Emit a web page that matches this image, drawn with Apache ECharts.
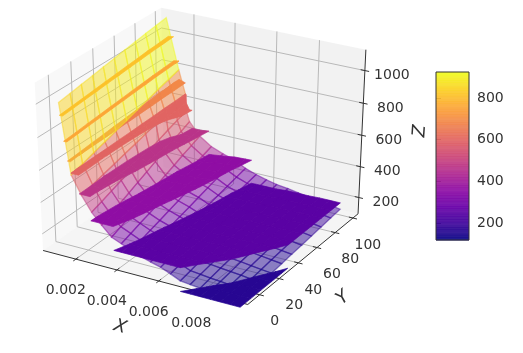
<!DOCTYPE html>
<html><head><meta charset="utf-8">
<style>html,body{margin:0;padding:0;background:#fff}#c{width:523px;height:353px;filter:blur(0.4px)}</style>
<script src="https://cdn.jsdelivr.net/npm/echarts@6/dist/echarts.min.js"></script>
</head><body><div id="c"></div>
<script>
// ---- values ----
const xTicks=[0.002,0.004,0.006,0.008];
const yTicks=[0,20,40,60,80,100];
const zTicks=[200,400,600,800,1000];
const xLabels=['0.002','0.004','0.006','0.008'];
const yLabels=['0','20','40','60','80','100'];
const zLabels=['200','400','600','800','1000'];
const xLim=[0.00038,0.01014], yLim=[-11.8,105.9], zLim=[93,1126];
const xStart=[0.00165,0.00158,0.0015,0.00143,0.00135,0.00128,0.0012,0.00113,0.00105,0.00099,0.00092];
const xEnd=0.00994;
const xSteps=18;
const yStart=-15;
const yEnd=[100,102,99,89,82,82,83.5,85,87,87.5,88,88,88,89,89,89,89.5,89.5,89.5];
const zValues=[
[1060,1064,1068,1072,1076,1080,1084,1088,1092,1096,1100],
[640,654,668,682,696,710,724,738,752,766,780],
[530,541,552,563,574,585,596,607,618,629,640],
[440,456,472,488,504,520,536,552,568,584,600],
[375,395,415,435,455,475,495,515,535,555,575],
[315,333,351,370,388,406,424,442,461,479,497],
[290,305,320,334,349,364,379,394,408,423,438],
[262,276,290,303,317,331,345,359,372,386,400],
[240,252,265,278,290,302,315,328,340,352,365],
[222,232,243,253,263,274,284,294,304,315,325],
[205,214,224,233,242,252,261,270,279,289,298],
[180,190,200,210,220,230,240,250,260,270,280],
[152,163,175,186,197,208,219,230,242,253,265],
[145,156,166,177,187,198,208,219,229,240,250],
[139,149,159,169,179,189,198,208,218,228,238],
[135,144,153,163,172,181,190,199,209,218,227],
[128,137,146,154,163,172,181,190,198,207,216],
[121,129,138,146,155,163,171,180,188,197,205],
[115,123,131,139,147,155,162,170,178,186,194]];
const bandEdges=[90,152,310,450,555,650,775,910,1050];
const bandLevels=[85,235,385,535,650,720,835,985];
const bandShades=[0.05,0.16,0.30,0.43,0.60,0.70,0.80,0.87];
const bandsUnderSurface=[5];
const plasmaStops=['#0d0887','#41049d','#6a00a8','#8f0da4','#b12a90','#cc4778','#e16462','#f1844b','#fca636','#fcce25','#f0f921'];
const colorRange=[119,924];
const colorbarTicks=[200,400,600,800];

// ---- helpers ----
function hex(c){return [1,3,5].map(i=>parseInt(c.substr(i,2),16));}
function plasma(t,a){t=Math.max(0,Math.min(1,t));const f=t*10,i=Math.min(9,Math.floor(f)),r=f-i;
  const A=hex(plasmaStops[i]),B=hex(plasmaStops[i+1]);
  const m=[0,1,2].map(k=>Math.round(A[k]+(B[k]-A[k])*r));
  return 'rgba('+m[0]+','+m[1]+','+m[2]+','+(a==null?1:a)+')';}
// matplotlib-style view: elevation 30, azimuth -60, distance 10
const U=[0.8660254,0.5,0],V=[-0.25,0.4330127,0.8660254],N=[0.4330127,-0.75,0.5];
function frac(v,l){return (v-l[0])/(l[1]-l[0]);}
function depth(x,y,z){const q=[frac(x,xLim)-.5,frac(y,yLim)-.5,frac(z,zLim)-.5];return N[0]*q[0]+N[1]*q[1]+N[2]*q[2];}
function proj(x,y,z){const q=[frac(x,xLim)-.5,frac(y,yLim)-.5,frac(z,zLim)-.5];
  const d=10-(N[0]*q[0]+N[1]*q[1]+N[2]*q[2]);
  return [(U[0]*q[0]+U[1]*q[1])/d,(V[0]*q[0]+V[1]*q[1]+V[2]*q[2])/d];}
const sx=2363,cx=203,sy=1914,cy=151;

// ---- build scene ----
const items=[];
function poly(pts,style){items.push({k:'p',pts,style});}
function line(a,b,style){items.push({k:'l',a,b,style});}
function text(p,dx,dy,t,style){items.push({k:'t',p,dx,dy,t,style});}
const [x0,x1]=xLim,[y0,y1]=yLim,[z0,z1]=zLim;
poly([proj(x0,y0,z0),proj(x0,y1,z0),proj(x0,y1,z1),proj(x0,y0,z1)],{fill:'rgba(242,242,242,0.5)'});
poly([proj(x0,y1,z0),proj(x1,y1,z0),proj(x1,y1,z1),proj(x0,y1,z1)],{fill:'rgba(230,230,230,0.5)'});
poly([proj(x0,y0,z0),proj(x1,y0,z0),proj(x1,y1,z0),proj(x0,y1,z0)],{fill:'rgba(236,236,236,0.5)'});
const gs={stroke:'#b8b8b8',lineWidth:1};
xTicks.forEach(v=>{line(proj(v,y0,z0),proj(v,y1,z0),gs);line(proj(v,y1,z0),proj(v,y1,z1),gs);});
yTicks.forEach(v=>{line(proj(x1,v,z0),proj(x0,v,z0),gs);line(proj(x0,v,z0),proj(x0,v,z1),gs);});
zTicks.forEach(v=>{line(proj(x0,y0,v),proj(x0,y1,v),gs);line(proj(x0,y1,v),proj(x1,y1,v),gs);});
const ax={stroke:'#333',lineWidth:1};
line(proj(x0,y0,z0),proj(x1,y0,z0),ax);
line(proj(x1,y0,z0),proj(x1,y1,z0),ax);
line(proj(x1,y1,z0),proj(x1,y1,z1),ax);
xTicks.forEach(v=>line(proj(v,y0+0.02*(y1-y0),z0),proj(v,y0-0.02*(y1-y0),z0),ax));
yTicks.forEach(v=>line(proj(x1-0.02*(x1-x0),v,z0),proj(x1+0.02*(x1-x0),v,z0),ax));
zTicks.forEach(v=>line(proj(x1-0.02*(x1-x0),y1,v),proj(x1+0.02*(x1-x0),y1,v),ax));

// mesh node
function node(i,j){return [xStart[j]+(xEnd-xStart[j])*i/xSteps,yStart+(yEnd[i]-yStart)*j/10,zValues[i][j]];}
const cells=[];
for(let i=0;i<xSteps;i++)for(let j=0;j<10;j++){
  const c=[node(i,j),node(i+1,j),node(i+1,j+1),node(i,j+1)];
  const avg=(c[0][2]+c[1][2]+c[2][2]+c[3][2])/4;
  const d=(depth(...c[0])+depth(...c[1])+depth(...c[2])+depth(...c[3]))/4;
  cells.push({c,avg,d});
}
// filled contour bands: each grid cell cut to the band's range and laid flat at its level
function clip(P,lim,keepAbove){const out=[];for(let k=0;k<P.length;k++){const a=P[k],b=P[(k+1)%P.length];
  const ia=keepAbove?a[2]>=lim:a[2]<=lim, ib=keepAbove?b[2]>=lim:b[2]<=lim;
  if(ia)out.push(a);
  if(ia!==ib){const t=(lim-a[2])/(b[2]-a[2]);out.push([a[0]+(b[0]-a[0])*t,a[1]+(b[1]-a[1])*t,lim]);}
 }return out;}
function drawBand(b){
  const L=bandLevels[b],col=plasma(bandShades[b],1);
  cells.forEach(f=>{
    let P=clip(f.c,bandEdges[b],true); if(P.length<3)return;
    P=clip(P,bandEdges[b+1],false); if(P.length<3)return;
    poly(P.map(p=>proj(p[0],p[1],L)),{fill:col,stroke:col,lineWidth:0.7});
  });
}
bandsUnderSurface.forEach(drawBand);
cells.slice().sort((a,b)=>a.d-b.d).forEach(f=>{
  const col=plasma((f.avg-colorRange[0])/(colorRange[1]-colorRange[0]),0.5);
  poly(f.c.map(p=>proj(...p)),{fill:col,stroke:col,lineWidth:1.3});
});
bandLevels.forEach((L,b)=>{if(!bandsUnderSurface.includes(b))drawBand(b);});
// tick labels and axis names
const ts={fontFamily:'DejaVu Sans',fontSize:14,fill:'#333',align:'center',verticalAlign:'middle'};
xTicks.forEach((v,i)=>text(proj(v,y0,z0),-10,31,xLabels[i],ts));
yTicks.forEach((v,i)=>text(proj(x1,v,z0),15,27,yLabels[i],ts));
zTicks.forEach((v,i)=>text(proj(x1,y1,v),27,5,zLabels[i],ts));
const ns=Object.assign({},ts,{fontSize:18,fontStyle:'italic'});
items.push({k:'a',x:120,y:327,t:'X',style:ns,rot:-0.3});
items.push({k:'a',x:343,y:298,t:'Y',style:ns,rot:0.7});
items.push({k:'a',x:420,y:131,t:'Z',style:ns,rot:1.5});

function renderScene(params,api){
  const it=items[params.dataIndex];
  if(it.k==='p')return {type:'polygon',silent:true,shape:{points:it.pts.map(p=>api.coord(p))},style:it.style};
  if(it.k==='l'){const a=api.coord(it.a),b=api.coord(it.b);
    return {type:'line',silent:true,shape:{x1:a[0],y1:a[1],x2:b[0],y2:b[1]},style:it.style};}
  if(it.k==='t'){const a=api.coord(it.p);
    return {type:'text',silent:true,x:a[0]+it.dx,y:a[1]+it.dy,style:Object.assign({text:it.t},it.style)};}
  return {type:'text',silent:true,x:it.x,y:it.y,rotation:it.rot,style:Object.assign({text:it.t},it.style)};
}
// colour bar levels
const barLevels=[];for(let k=0;k<64;k++)barLevels.push(k);
function renderBar(params,api){
  const k=params.dataIndex,n=barLevels.length;
  const vA=colorRange[0]+(colorRange[1]-colorRange[0])*k/n, vB=colorRange[0]+(colorRange[1]-colorRange[0])*(k+1)/n;
  const p0=api.coord([0,vA]),p1=api.coord([1,vB]);
  return {type:'rect',silent:true,shape:{x:p0[0],y:p1[1],width:p1[0]-p0[0],height:p0[1]-p1[1]+0.5},
    style:{fill:plasma(k/(n-1),0.92)}};
}
function renderBarBox(params,api){
  const p0=api.coord([0,colorRange[0]]),p1=api.coord([1,colorRange[1]]);
  return {type:'rect',silent:true,shape:{x:p0[0],y:p1[1],width:p1[0]-p0[0],height:p0[1]-p1[1]},
    style:{fill:'none',stroke:'#333',lineWidth:1}};
}
const chart=echarts.init(document.getElementById('c'),null,{renderer:'canvas'});
chart.setOption({
  animation:false,
  grid:[{left:0,top:0,width:523,height:353},{left:436,top:72,width:33,height:168}],
  xAxis:[{type:'value',gridIndex:0,show:false,min:-cx/sx,max:(523-cx)/sx},
         {type:'value',gridIndex:1,show:false,min:0,max:1}],
  yAxis:[{type:'value',gridIndex:0,show:false,min:(cy-353)/sy,max:cy/sy},
         {type:'value',gridIndex:1,position:'right',min:colorRange[0],max:colorRange[1],
          splitLine:{show:false},axisLine:{show:false},
          axisTick:{show:true,length:5,lineStyle:{color:'#333'},customValues:colorbarTicks},
          axisLabel:{show:true,fontFamily:'DejaVu Sans',fontSize:14,color:'#333',margin:8,customValues:colorbarTicks}}],
  series:[
   {type:'custom',xAxisIndex:0,yAxisIndex:0,clip:false,silent:true,renderItem:renderScene,data:items.map((_,i)=>[i,0])},
   {type:'custom',xAxisIndex:1,yAxisIndex:1,clip:false,silent:true,renderItem:renderBar,data:barLevels.map(k=>[k,0])},
   {type:'custom',xAxisIndex:1,yAxisIndex:1,clip:false,silent:true,renderItem:renderBarBox,data:[[0,0]]}
  ]
});
</script></body></html>
